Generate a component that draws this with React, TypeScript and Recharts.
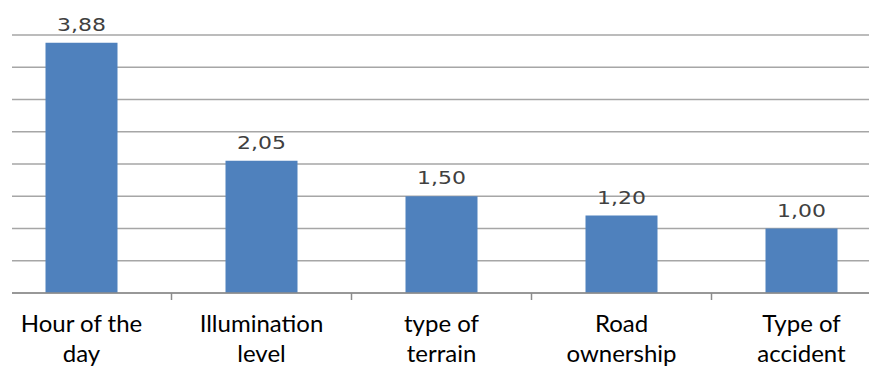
import React from "react";
import { BarChart, Bar, XAxis, YAxis, CartesianGrid, LabelList } from "recharts";

// Category names (line breaks mark where each label wraps)
const categories = [
  "Hour of the\nday",
  "Illumination\nlevel",
  "type of\nterrain",
  "Road\nownership",
  "Type of\naccident",
];

// Bar values
const values = [3.88, 2.05, 1.5, 1.2, 1.0];

// Value-axis gridline positions
const gridTicks = [0, 0.5, 1, 1.5, 2, 2.5, 3, 3.5, 4];

const data = categories.map((name, i) => ({ name, value: values[i] }));

const formatValue = (v: any) => Number(v).toFixed(2).replace(".", ",");

// Category tick: two-line label plus a tick mark on the boundary to the right
function CategoryTick(props: any) {
  const { x, y, payload } = props;
  const lines = String(payload.value).split("\n");
  const half = typeof payload.offset === "number" ? payload.offset : 0;
  return (
    <g>
      {half > 0 && (
        <line
          x1={x + half}
          x2={x + half}
          y1={y}
          y2={y + 7}
          stroke="#8c8c8c"
          strokeWidth={1.5}
        />
      )}
      <text
        x={x}
        y={y}
        textAnchor="middle"
        fontFamily="Lato, 'Noto Sans', sans-serif"
        fontSize={24}
        fill="#000"
      >
        {lines.map((line, i) => (
          <tspan key={i} x={x} dy={i === 0 ? 39 : 30}>
            {line}
          </tspan>
        ))}
      </text>
    </g>
  );
}

// Value label above each bar, in a wide face
function ValueLabel(props: any) {
  const { x, y, width, value } = props;
  const cx = Number(x) + Number(width) / 2;
  const by = Number(y) - 12;
  return (
    <text
      transform={`translate(${cx}, ${by}) scale(1.22, 1)`}
      textAnchor="middle"
      fill="#404040"
      fontSize={18}
      fontFamily="'DejaVu Sans', sans-serif"
    >
      {formatValue(value)}
    </text>
  );
}

export default function App() {
  return (
    <div
      style={{
        position: "absolute",
        left: 0,
        top: 0,
        width: 869,
        height: 369,
        overflow: "hidden",
        background: "#fff",
      }}
    >
      <BarChart
        width={869}
        height={369}
        data={data}
        margin={{ top: 35, right: 0, bottom: 0, left: 12 }}
        barCategoryGap="30%"
      >
        <CartesianGrid
          vertical={false}
          stroke="#a6a6a6"
          strokeWidth={1.5}
        />
        <YAxis hide domain={[0, 4]} ticks={gridTicks} width={0} />
        <XAxis
          dataKey="name"
          height={76}
          interval={0}
          padding={{ left: -20.5, right: -22.5 }}
          axisLine={{ stroke: "#8c8c8c", strokeWidth: 1.5 }}
          tickLine={false}
          tickSize={0}
          tickMargin={0}
          tick={<CategoryTick />}
        />
        <Bar dataKey="value" fill="#4f81bd" isAnimationActive={false}>
          <LabelList dataKey="value" content={<ValueLabel />} />
        </Bar>
      </BarChart>
    </div>
  );
}
